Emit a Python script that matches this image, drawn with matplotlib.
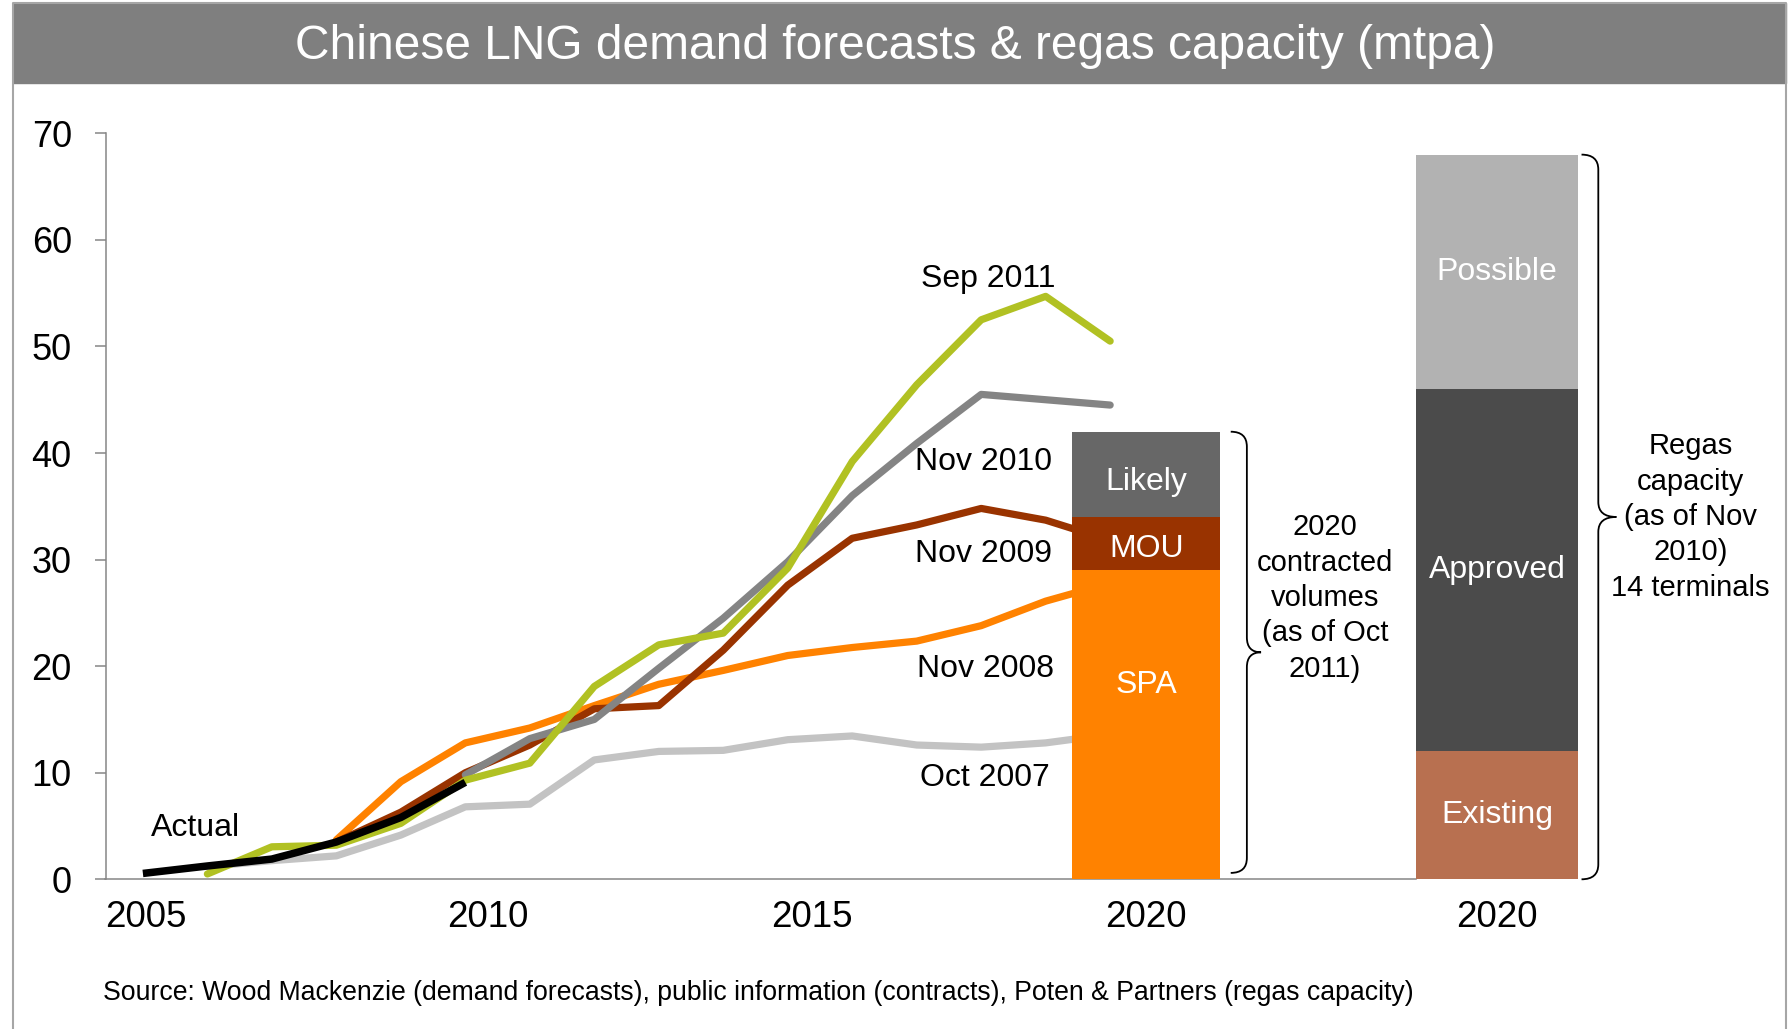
import matplotlib.pyplot as plt
from matplotlib.path import Path
from matplotlib.patches import PathPatch, Rectangle
from matplotlib.lines import Line2D

plt.rcParams['font.family'] = ['Liberation Sans', 'DejaVu Sans']

# demand forecasts (mtpa)
actual_years = [2005, 2006, 2007, 2008, 2009, 2010]
actual = [0.55, 1.25, 1.9, 3.5, 5.8, 9.1]

oct2007_years = list(range(2006, 2021))
oct2007 = [1.2, 1.75, 2.2, 4.15, 6.8, 7.05, 11.2, 12.0, 12.1, 13.1, 13.45, 12.6, 12.4, 12.8, 13.6]

nov2008_years = list(range(2008, 2021))
nov2008 = [3.7, 9.16, 12.8, 14.2, 16.3, 18.3, 19.6, 21.0, 21.75, 22.35, 23.8, 26.1, 27.8]

nov2009_years = list(range(2008, 2021))
nov2009 = [3.5, 6.3, 10.0, 12.6, 16.0, 16.3, 21.5, 27.6, 32.0, 33.25, 34.8, 33.7, 31.8]

nov2010_years = list(range(2010, 2021))
nov2010 = [9.8, 13.2, 15.0, 19.8, 24.5, 29.8, 36.0, 40.9, 45.5, 45.0, 44.5]

sep2011_years = list(range(2006, 2021))
sep2011 = [0.5, 3.05, 3.2, 5.25, 9.3, 10.9, 18.1, 22.0, 23.1, 29.2, 39.2, 46.4, 52.5, 54.7, 50.5]

# 2020 contracted volumes and regas capacity
contract_labels = ['SPA', 'MOU', 'Likely']
contract_values = [29, 5, 8]
contract_colors = ['#FF8200', '#993300', '#676767']

regas_labels = ['Existing', 'Approved', 'Possible']
regas_values = [12, 34, 22]
regas_colors = ['#B87050', '#4B4B4B', '#B2B2B2']

tick_labels = ['2005', '2010', '2015', '2020', '2020']

fig = plt.figure(figsize=(17.89, 10.29), dpi=100)

# frame + title bar
W, H = 1789, 1029
fig.patches.append(Rectangle((12.6 / W, 1 - 82.7 / H), (1786 - 12.6) / W, 79.7 / H,
                             transform=fig.transFigure, color='#7F7F7F', zorder=0))
fig.lines.append(Line2D([12.6 / W, 12.6 / W, 1785.5 / W, 1785.5 / W], [0, 1 - 3 / H, 1 - 3 / H, 0],
                        transform=fig.transFigure, color='#A6A6A6', lw=1.5))
fig.text(895 / W, 1 - 46.5 / H, 'Chinese LNG demand forecasts & regas capacity (mtpa)',
         color='white', fontsize=34.5, ha='center', va='center')

ax = fig.add_axes([105.5 / W, 1 - 879.3 / H, (1755 - 105.5) / W, 746 / H])
ax.set_xlim(2004.42, 2030)
ax.set_ylim(0, 70)

style = dict(lw=5.2, solid_capstyle='round', solid_joinstyle='round', zorder=2)
ax.plot(oct2007_years, oct2007, color='#C3C3C3', **style)
ax.plot(nov2008_years, nov2008, color='#FF8200', **style)
ax.plot(nov2009_years, nov2009, color='#993300', **style)
ax.plot(nov2010_years, nov2010, color='#848484', **style)
ax.plot(sep2011_years, sep2011, color='#B1C123', **style)
ax.plot(actual_years, actual, color='black', lw=5.4, solid_capstyle='butt', zorder=3)

# series labels
ax.text(2018.11, 56.3, 'Sep 2011', fontsize=23, ha='center', va='center')
ax.text(2018.03, 39.2, 'Nov 2010', fontsize=23, ha='center', va='center')
ax.text(2018.03, 30.5, 'Nov 2009', fontsize=23, ha='center', va='center')
ax.text(2018.06, 19.7, 'Nov 2008', fontsize=23, ha='center', va='center')
ax.text(2018.06, 9.5, 'Oct 2007', fontsize=23, ha='center', va='center')
ax.text(2005.81, 4.8, 'Actual', fontsize=23, ha='center', va='center')

# stacked bars
cx, cw = 2020.56, 2.3
rx, rw = 2026.0, 2.5
contract_text_y = [18.2, 31.0, 37.3]
bottom = 0
for lab, v, c, ty in zip(contract_labels, contract_values, contract_colors, contract_text_y):
    ax.bar(cx, v, cw, bottom=bottom, color=c, zorder=5, clip_on=False)
    ax.text(cx, ty, lab, color='white', fontsize=23, ha='center', va='center', zorder=6)
    bottom += v
contract_total = bottom

bottom = 0
for lab, v, c in zip(regas_labels, regas_values, regas_colors):
    ax.bar(rx, v, rw, bottom=bottom, color=c, zorder=5, clip_on=False)
    ax.text(rx, bottom + v / 2, lab, color='white', fontsize=23, ha='center', va='center', zorder=6)
    bottom += v
regas_total = bottom


def brace(x, y0, y1, w_hook, w_tip, r):
    ym = (y0 + y1) / 2
    verts = [(x - w_hook, y1), (x, y1), (x, y1 - r),
             (x, ym + r), (x, ym), (x + w_tip, ym),
             (x, ym), (x, ym - r),
             (x, y0 + r), (x, y0), (x - w_hook, y0)]
    codes = [Path.MOVETO, Path.CURVE3, Path.CURVE3,
             Path.LINETO, Path.CURVE3, Path.CURVE3,
             Path.CURVE3, Path.CURVE3,
             Path.LINETO, Path.CURVE3, Path.CURVE3]
    ax.add_patch(PathPatch(Path(verts, codes), fill=False, lw=1.3, ec='black', clip_on=False))


brace(2022.12, 0.6, contract_total, 0.25, 0.22, 1.4)
brace(2027.57, 0.0, regas_total, 0.26, 0.28, 1.4)

ax.text(2023.33, 26.4, '2020\ncontracted\nvolumes\n(as of Oct\n2011)', fontsize=21,
        ha='center', va='center', linespacing=1.335)
ax.text(2029.0, 34.0, 'Regas\ncapacity\n(as of Nov\n2010)\n14 terminals', fontsize=21,
        ha='center', va='center', linespacing=1.335)

# axes styling
for s in ['top', 'right']:
    ax.spines[s].set_visible(False)
ax.spines['left'].set_color('#868686')
ax.spines['left'].set_linewidth(1.1)
ax.spines['bottom'].set_color('#868686')
ax.spines['bottom'].set_linewidth(1.1)
ax.spines['bottom'].set_bounds(2004.42, rx - rw / 2)

ax.set_yticks(range(0, 80, 10))
ax.tick_params(axis='y', length=7.8, width=1.1, color='#868686', pad=16.5, labelsize=26)
ax.set_xticks([2005.05, 2010.35, 2015.38, cx, rx], tick_labels)
ax.tick_params(axis='x', length=0, pad=15, labelsize=26.5)

fig.text(103 / W, 1 - 993.5 / H,
         'Source: Wood Mackenzie (demand forecasts), public information (contracts), '
         'Poten & Partners (regas capacity)', fontsize=19.2, va='center')

fig.savefig('out.png', dpi=100)
